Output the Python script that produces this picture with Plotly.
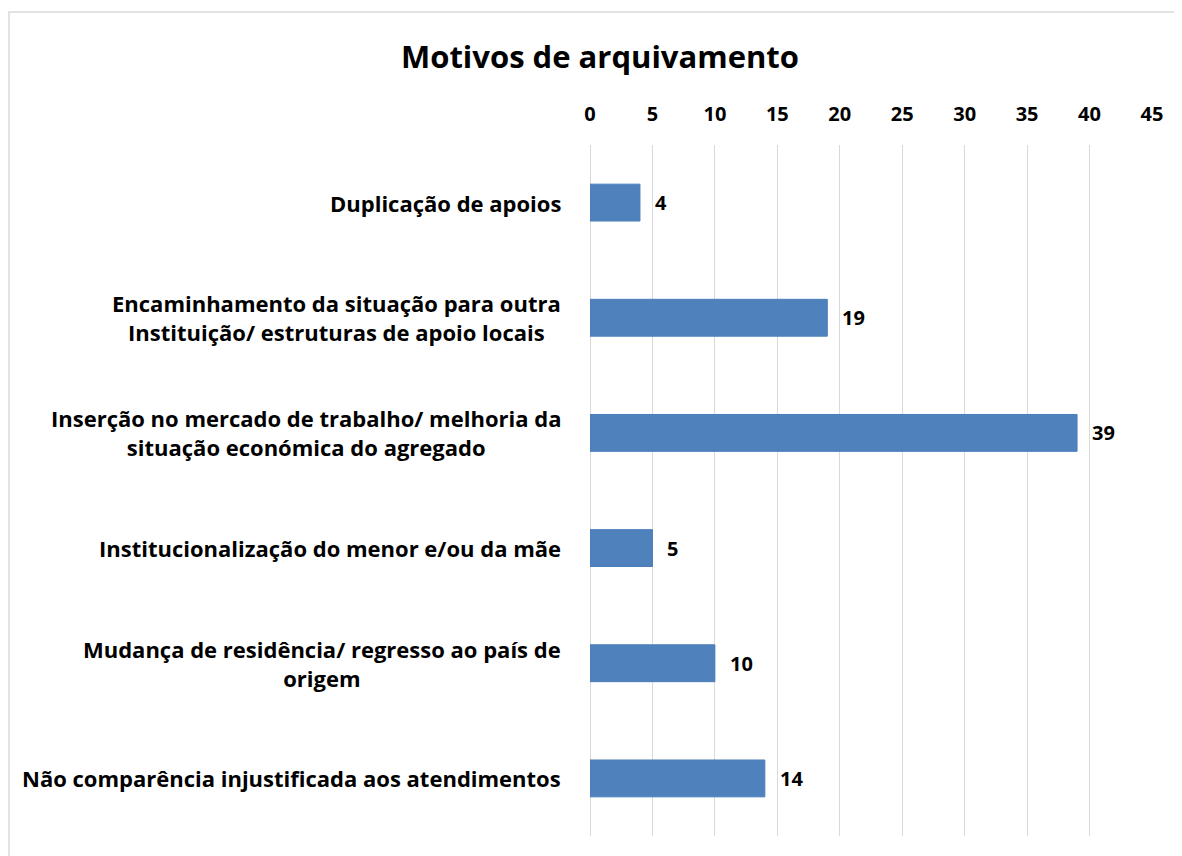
import plotly.graph_objects as go

categories = [
    "Duplicação de apoios",
    "Encaminhamento da situação para outra<br>Instituição/ estruturas de apoio locais",
    "Inserção no mercado de trabalho/ melhoria da<br>situação económica do agregado",
    "Institucionalização do menor e/ou da mãe",
    "Mudança de residência/ regresso ao país de<br>origem",
    "Não comparência injustificada aos atendimentos",
]
values = [4, 19, 39, 5, 10, 14]
tick_vals = [0, 5, 10, 15, 20, 25, 30, 35, 40, 45]

# page body has an 8px margin: figure pixel = reference pixel - 8
OFF = 8
W, H = 1182 - OFF, 856 - OFF
L, R, T, B = 590 - OFF, 30, 145 - OFF, 20
pw, ph = W - L - R, H - T - B

def px_x(p):
    return (p - OFF - L) / pw

def px_y(p):
    return (H - B - (p - OFF)) / ph

FONT = "Open Sans"
LABEL_SIZE = 22

fig = go.Figure()
fig.add_trace(go.Bar(
    x=values, y=categories, orientation="h",
    marker=dict(color="#4F81BD", line=dict(color="#4A7EBB", width=1)),
    width=0.32,
    hoverinfo="skip",
))

annotations = []
for c, v in zip(categories, values):
    text = "<br>".join(f"<b>{ln}</b>" for ln in c.split("<br>"))
    annotations.append(dict(
        x=px_x(563), xref="paper", y=c, yref="y", text=text,
        xanchor="right", yanchor="middle", align="center", showarrow=False,
        font=dict(family=FONT, size=LABEL_SIZE, color="#000000"),
    ))
    annotations.append(dict(
        x=v, xref="x", y=c, yref="y", text=f"<b>{v}</b>",
        xanchor="left", yanchor="middle", showarrow=False, xshift=13,
        font=dict(family=FONT, size=20, color="#000000"),
    ))

fig.update_layout(
    width=W, height=H,
    margin=dict(l=L, r=R, t=T, b=B),
    paper_bgcolor="#FFFFFF", plot_bgcolor="#FFFFFF",
    showlegend=False,
    title=dict(text="<b>Motivos de arquivamento</b>", x=px_x(600), xref="paper",
               xanchor="center", y=1 - (57 - OFF) / H, yanchor="middle",
               font=dict(family=FONT, size=31, color="#000000")),
    xaxis=dict(range=[0, 45], side="top", tickvals=tick_vals,
               ticktext=[f"<b>{t}</b>" for t in tick_vals],
               showgrid=True, gridcolor="#D9D9D9", gridwidth=1,
               zeroline=True, zerolinecolor="#D9D9D9", zerolinewidth=1,
               showline=False, ticks="", ticklabelstandoff=19,
               tickfont=dict(family=FONT, size=20, color="#000000")),
    yaxis=dict(categoryorder="array", categoryarray=categories,
               autorange="reversed", showticklabels=False, showgrid=False,
               zeroline=False, showline=False, ticks=""),
    annotations=annotations,
    shapes=[dict(type="rect", xref="paper", yref="paper",
                 x0=px_x(OFF + 1), x1=px_x(1200), y0=px_y(880), y1=px_y(12),
                 line=dict(color="#D9D9D9", width=1.5), fillcolor="rgba(0,0,0,0)",
                 layer="below")],
)

fig.write_html("out.html")
